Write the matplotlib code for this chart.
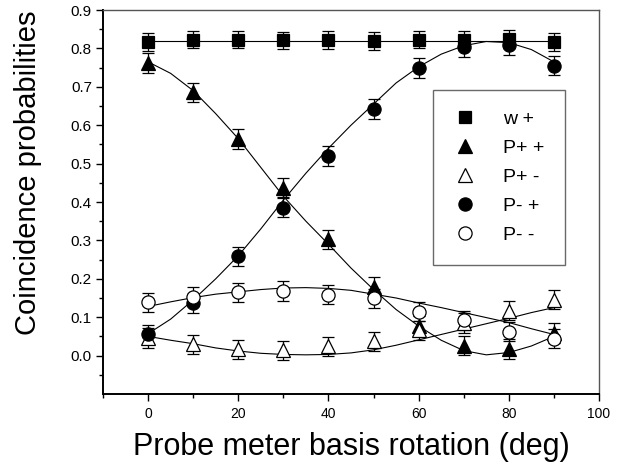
import numpy as np
import matplotlib
matplotlib.use("Agg")
import matplotlib.pyplot as plt
from matplotlib.ticker import FixedLocator, FormatStrFormatter

plt.rcParams['font.family'] = ['Liberation Sans', 'DejaVu Sans']

# --- measured data ---
angles = [0, 10, 20, 30, 40, 50, 60, 70, 80, 90]
w_plus = [0.816, 0.823, 0.823, 0.821, 0.822, 0.819, 0.823, 0.823, 0.824, 0.816]
p_pp = [0.762, 0.686, 0.564, 0.437, 0.303, 0.179, 0.077, 0.026, 0.017, 0.059]
p_pm = [0.046, 0.029, 0.016, 0.014, 0.024, 0.037, 0.066, 0.085, 0.117, 0.146]
p_mp = [0.055, 0.136, 0.259, 0.385, 0.520, 0.642, 0.749, 0.803, 0.808, 0.755]
p_mm = [0.139, 0.153, 0.165, 0.168, 0.159, 0.149, 0.114, 0.092, 0.062, 0.044]
err_w = [0.023] * 10
err_pp = [0.025] * 10
err_pm = [0.025] * 10
err_mp = [0.025] * 10
err_mm = [0.025] * 10

# --- fitted curves, every 5 degrees ---
fit_angles = [0, 5, 10, 15, 20, 25, 30, 35, 40, 45, 50, 55, 60, 65, 70, 75, 80, 85, 90]
fit_w = [0.82] * 19
fit_pp = [0.765, 0.735, 0.690, 0.630, 0.565, 0.490, 0.415, 0.350, 0.290, 0.228,
          0.172, 0.120, 0.077, 0.040, 0.013, 0.002, 0.008, 0.025, 0.050]
fit_pm = [0.050, 0.040, 0.031, 0.020, 0.012, 0.006, 0.003, 0.002, 0.003, 0.007,
          0.015, 0.027, 0.041, 0.055, 0.069, 0.083, 0.097, 0.112, 0.125]
fit_mp = [0.057, 0.095, 0.145, 0.200, 0.260, 0.330, 0.405, 0.475, 0.540, 0.600,
          0.655, 0.710, 0.752, 0.785, 0.807, 0.818, 0.815, 0.797, 0.765]
fit_mm = [0.128, 0.140, 0.151, 0.160, 0.166, 0.172, 0.176, 0.177, 0.175, 0.170,
          0.160, 0.150, 0.137, 0.125, 0.112, 0.099, 0.086, 0.070, 0.055]

labels = ["w +", "P+ +", "P+ -", "P- +", "P- -"]

fig = plt.figure(figsize=(6.32, 4.72), dpi=100)
ax = fig.add_axes([103 / 632, 1 - 394 / 472, 496 / 632, 384 / 472])

series = [
    (w_plus, err_w, fit_w, 's', 'black', 8.5),
    (p_pp, err_pp, fit_pp, '^', 'black', 10),
    (p_pm, err_pm, fit_pm, '^', 'white', 10),
    (p_mp, err_mp, fit_mp, 'o', 'black', 9.5),
    (p_mm, err_mm, fit_mm, 'o', 'white', 9.5),
]

for vals, errs, fit, mk, fc, ms in series:
    ax.plot(fit_angles, fit, color='black', lw=0.8, zorder=2)

for (vals, errs, fit, mk, fc, ms), lab in zip(series, labels):
    ax.errorbar(angles, vals, yerr=errs, fmt='none', ecolor='black',
                elinewidth=0.9, capsize=4, capthick=0.9, zorder=3)
    ax.plot(angles, vals, linestyle='none', marker=mk, markersize=ms,
            markerfacecolor=fc, markeredgecolor='black', markeredgewidth=0.9,
            label=lab, zorder=4)

ax.set_xlim(-10, 100)
ax.set_ylim(-0.1, 0.9)
ax.xaxis.set_major_locator(FixedLocator([0, 20, 40, 60, 80, 100]))
ax.xaxis.set_minor_locator(FixedLocator([-10, 10, 30, 50, 70, 90]))
ax.yaxis.set_major_locator(FixedLocator(np.round(np.arange(0, 0.91, 0.1), 2)))
ax.yaxis.set_minor_locator(FixedLocator(np.round(np.arange(-0.05, 0.9, 0.1), 3)))
ax.yaxis.set_major_formatter(FormatStrFormatter('%.1f'))

ax.tick_params(axis='both', which='major', direction='out', length=5, width=1,
               pad=4, top=False, right=False)
ax.tick_params(axis='x', which='major', labelsize=10)
ax.tick_params(axis='y', which='major', labelsize=11, pad=3)
ax.tick_params(axis='both', which='minor', direction='out', length=3, width=1,
               top=False, right=False)

for side in ['left', 'bottom']:
    ax.spines[side].set_linewidth(1.4)
    ax.spines[side].set_color('black')
for side in ['top', 'right']:
    ax.spines[side].set_linewidth(1.0)
    ax.spines[side].set_color('#555555')

ax.set_xlabel("Probe meter basis rotation (deg)", fontsize=22, labelpad=8)
ax.set_ylabel("Coincidence probabilities", fontsize=21)
ax.yaxis.set_label_coords(-0.122, 0.575)

leg = ax.legend(loc='upper left', bbox_to_anchor=(0.665, 0.792), frameon=True,
                fancybox=False, fontsize=14, numpoints=1, handlelength=1.2,
                handletextpad=1.35, labelspacing=0.59, borderpad=1.05,
                borderaxespad=0)
leg.get_frame().set_edgecolor('#444444')
leg.get_frame().set_linewidth(1.0)

fig.savefig("out.png", dpi=100)
